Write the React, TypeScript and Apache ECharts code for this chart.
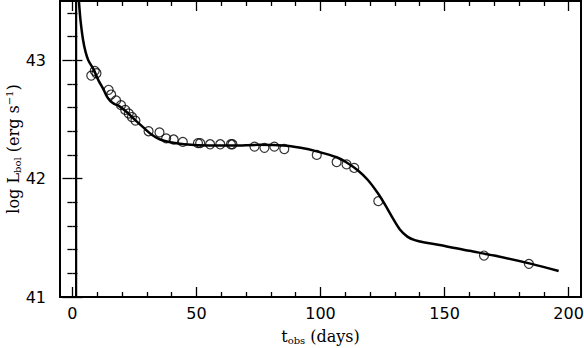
import React, { useEffect, useRef } from "react";
import * as echarts from "echarts";

// Observed bolometric light curve (t_obs in days, log L_bol)
const obsT = [7.6, 9.0, 9.7, 14.6, 15.6, 17.6, 19.6, 21.3, 22.7, 24.0, 25.4, 30.7, 35.1, 37.8, 40.8, 44.5, 50.6, 51.5, 55.5, 59.6, 63.9, 64.5, 73.4, 77.4, 81.4, 85.4, 98.5, 106.5, 110.5, 113.6, 123.3, 165.9, 184.0];
const obsL = [42.87, 42.91, 42.89, 42.75, 42.71, 42.66, 42.62, 42.58, 42.55, 42.52, 42.49, 42.40, 42.39, 42.34, 42.33, 42.31, 42.30, 42.30, 42.29, 42.29, 42.29, 42.29, 42.27, 42.26, 42.27, 42.25, 42.20, 42.14, 42.12, 42.09, 41.81, 41.35, 41.28];

// Model light curve
const modelT = [2.3, 2.8, 3.3, 4.3, 5.3, 6.4, 8.6, 10.5, 12.6, 14.0, 15.5, 17.0, 19.0, 22.0, 25.0, 28.7, 32.0, 35.4, 40.0, 45.0, 55.0, 65.0, 75.0, 85.0, 92.0, 98.5, 106.5, 111.0, 115.0, 119.0, 123.0, 126.0, 129.0, 132.0, 135.0, 138.0, 142.0, 148.0, 160.0, 170.0, 185.0, 196.0];
const modelL = [43.6, 43.45, 43.33, 43.17, 43.07, 43.0, 42.92, 42.83, 42.75, 42.69, 42.65, 42.63, 42.61, 42.56, 42.50, 42.43, 42.37, 42.33, 42.305, 42.29, 42.28, 42.28, 42.285, 42.28, 42.26, 42.23, 42.18, 42.13, 42.07, 41.99, 41.88, 41.78, 41.67, 41.57, 41.51, 41.48, 41.46, 41.44, 41.39, 41.35, 41.28, 41.22];

// Explosion epoch marker
const explosionT = 1.5;

// Axis ticks and labels
const xMajorTicks = [0, 50, 100, 150, 200];
const xMinorTicks = [10, 20, 30, 40, 60, 70, 80, 90, 110, 120, 130, 140, 160, 170, 180, 190];
const yMajorTicks = [41, 42, 43];
const yMinorTicks = [41.2, 41.4, 41.6, 41.8, 42.2, 42.4, 42.6, 42.8, 43.2, 43.4];

const X_MIN = -5;
const X_MAX = 205;
const Y_MIN = 41;
const Y_MAX = 43.5;

const MAJOR_LEN = 10;
const MINOR_LEN = 5;
const TICK_STYLE = { color: "#000", width: 1.3 };

function tickAxis(kind: "x" | "y", position: string, values: number[], len: number) {
  return {
    type: "value",
    position,
    min: kind === "x" ? X_MIN : Y_MIN,
    max: kind === "x" ? X_MAX : Y_MAX,
    axisLine: { show: false },
    splitLine: { show: false },
    axisLabel: { show: false },
    axisTick: { show: true, inside: true, length: len, lineStyle: TICK_STYLE, customValues: values },
  };
}

export default function App() {
  const ref = useRef<HTMLDivElement>(null);

  useEffect(() => {
    document.body.style.margin = "0";
    if (!ref.current) return;
    const chart = echarts.init(ref.current, undefined, { renderer: "svg" });

    chart.setOption({
      animation: false,
      backgroundColor: "#fff",
      grid: {
        left: 60,
        top: 1,
        right: 3,
        bottom: 51,
        show: true,
        borderColor: "#000",
        borderWidth: 2,
        backgroundColor: "transparent",
        containLabel: false,
        outerBoundsMode: "none",
      },
      xAxis: [
        {
          type: "value",
          position: "bottom",
          min: X_MIN,
          max: X_MAX,
          axisLine: { show: false },
          splitLine: { show: false },
          axisTick: { show: true, inside: true, length: MAJOR_LEN, lineStyle: TICK_STYLE, customValues: xMajorTicks },
          axisLabel: {
            color: "#000",
            fontSize: 16,
            fontFamily: "DejaVu Sans",
            margin: 8,
            customValues: xMajorTicks,
          },
          name: "t{sub|obs} (days)",
          nameLocation: "middle",
          nameGap: 30,
          nameMoveOverlap: false,
          nameTextStyle: {
            color: "#000",
            fontSize: 16,
            fontFamily: "DejaVu Serif",
            rich: {
              sub: { fontSize: 10, fontFamily: "DejaVu Serif", padding: [8, 0, 0, 0] },
            },
          },
        },
        tickAxis("x", "bottom", xMinorTicks, MINOR_LEN),
        tickAxis("x", "top", xMajorTicks, MAJOR_LEN),
        tickAxis("x", "top", xMinorTicks, MINOR_LEN),
      ],
      yAxis: [
        {
          type: "value",
          position: "left",
          min: Y_MIN,
          max: Y_MAX,
          axisLine: { show: false },
          splitLine: { show: false },
          axisTick: { show: true, inside: true, length: MAJOR_LEN, lineStyle: TICK_STYLE, customValues: yMajorTicks },
          axisLabel: {
            color: "#000",
            fontSize: 16,
            fontFamily: "DejaVu Sans",
            margin: 14,
            customValues: yMajorTicks,
          },
          name: "log L{sub|bol} (erg s{sup|−1})",
          nameLocation: "middle",
          nameGap: 38,
          nameMoveOverlap: false,
          nameTextStyle: {
            color: "#000",
            fontSize: 16,
            fontFamily: "DejaVu Serif",
            rich: {
              sub: { fontSize: 10, fontFamily: "DejaVu Serif", padding: [8, 0, 0, 0] },
              sup: { fontSize: 10, fontFamily: "DejaVu Serif", padding: [0, 0, 8, 0] },
            },
          },
        },
        tickAxis("y", "left", yMinorTicks, MINOR_LEN),
        tickAxis("y", "right", yMajorTicks, MAJOR_LEN),
        tickAxis("y", "right", yMinorTicks, MINOR_LEN),
      ],
      series: [
        {
          type: "line",
          data: [
            [explosionT, Y_MIN],
            [explosionT, Y_MAX],
          ],
          symbol: "none",
          lineStyle: { color: "#000", width: 2.2 },
          z: 3,
        },
        {
          type: "line",
          data: modelT.map((t, i) => [t, modelL[i]]),
          symbol: "none",
          smooth: 0.3,
          clip: true,
          lineStyle: { color: "#000", width: 2.5 },
          z: 3,
        },
        {
          type: "scatter",
          data: obsT.map((t, i) => [t, obsL[i]]),
          symbol: "circle",
          symbolSize: 9,
          itemStyle: { color: "transparent", borderColor: "#000", borderWidth: 1.2 },
          z: 4,
        },
      ],
    });

    return () => chart.dispose();
  }, []);

  return <div ref={ref} style={{ width: 584, height: 348, position: "absolute", left: 0, top: 0 }} />;
}
